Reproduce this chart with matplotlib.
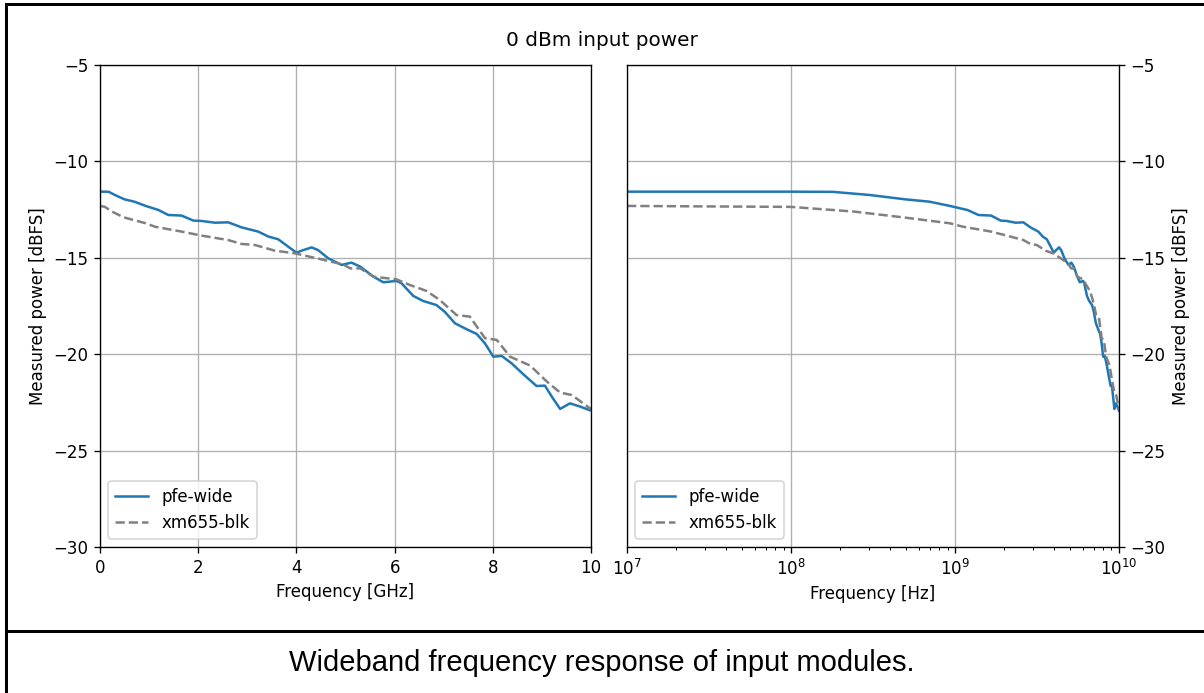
import matplotlib.pyplot as plt
from matplotlib.lines import Line2D
import numpy as np

# frequency points [GHz] and measured power [dBFS]
freq_pfe = [0.01, 0.05, 0.1, 0.18, 0.3, 0.5, 0.7, 0.93, 1.19, 1.39, 1.66, 1.90, 2.07,
            2.34, 2.61, 2.88, 3.22, 3.43, 3.63, 3.83, 4.00, 4.14, 4.31, 4.44, 4.65,
            4.92, 5.12, 5.30, 5.57, 5.77, 6.04, 6.14, 6.38, 6.58, 6.85, 7.02, 7.23,
            7.47, 7.67, 7.84, 8.01, 8.18, 8.38, 8.62, 8.89, 9.06, 9.20, 9.37, 9.57,
            9.78, 10.0]
power_pfe = [-11.57, -11.57, -11.57, -11.58, -11.74, -11.97, -12.09, -12.31, -12.52,
             -12.78, -12.81, -13.07, -13.09, -13.18, -13.16, -13.42, -13.64, -13.90,
             -14.04, -14.42, -14.73, -14.60, -14.46, -14.60, -15.03, -15.37, -15.25,
             -15.46, -15.98, -16.27, -16.20, -16.32, -16.98, -17.24, -17.45, -17.80,
             -18.40, -18.71, -18.95, -19.44, -20.13, -20.09, -20.47, -21.04, -21.65,
             -21.63, -22.20, -22.84, -22.55, -22.72, -22.93]

freq_xm = [0.01, 0.1, 0.24, 0.48, 0.93, 1.12, 1.66, 2.07, 2.61, 2.88, 3.16, 3.56, 3.97,
           4.51, 4.95, 5.10, 5.30, 5.57, 6.04, 6.31, 6.65, 6.92, 7.26, 7.53, 7.84,
           8.08, 8.35, 8.76, 9.10, 9.37, 9.61, 10.0]
power_xm = [-12.31, -12.36, -12.60, -12.90, -13.21, -13.39, -13.64, -13.85, -14.08,
            -14.28, -14.34, -14.63, -14.77, -15.08, -15.35, -15.55, -15.55, -15.98,
            -16.12, -16.41, -16.72, -17.19, -17.97, -18.05, -19.17, -19.26, -20.13,
            -20.59, -21.42, -21.99, -22.12, -22.85]

labels = ["pfe-wide", "xm655-blk"]

fig = plt.figure(figsize=(1204 / 120, 693 / 120), dpi=120)
ax1 = fig.add_axes([0.0831, 0.2107, 0.4078, 0.6955])
ax2 = fig.add_axes([0.5208, 0.2107, 0.4086, 0.6955])

# linear axis, GHz
ax1.plot(freq_pfe, power_pfe, color="tab:blue", label=labels[0])
ax1.plot(freq_xm, power_xm, color="gray", linestyle="--", label=labels[1])
ax1.set_xlim(0, 10)
ax1.set_ylim(-30, -5)
ax1.set_xlabel("Frequency [GHz]")
ax1.set_ylabel("Measured power [dBFS]")
ax1.grid(True)
ax1.legend(loc="lower left")

# log axis, Hz
ax2.semilogx(np.array(freq_pfe) * 1e9, power_pfe, color="tab:blue", label=labels[0])
ax2.semilogx(np.array(freq_xm) * 1e9, power_xm, color="gray", linestyle="--", label=labels[1])
ax2.set_xlim(1e7, 1e10)
ax2.set_ylim(-30, -5)
ax2.set_xlabel("Frequency [Hz]")
ax2.set_ylabel("Measured power [dBFS]")
ax2.yaxis.tick_right()
ax2.yaxis.set_label_position("right")
ax2.grid(True)
ax2.legend(loc="lower left")

fig.suptitle("0 dBm input power", y=0.955)

# document frame + caption cell
fig.add_artist(Line2D([6 / 1204, 6 / 1204], [0, 1 - 4 / 693], color="black", lw=1.8,
                      transform=fig.transFigure))
fig.add_artist(Line2D([6 / 1204, 1], [1 - 4 / 693, 1 - 4 / 693], color="black", lw=1.8,
                      transform=fig.transFigure))
fig.add_artist(Line2D([6 / 1204, 1], [1 - 631 / 693, 1 - 631 / 693], color="black", lw=1.8,
                      transform=fig.transFigure))
fig.text(0.5, 1 - 663 / 693, "Wideband frequency response of input modules.",
         ha="center", va="center", fontsize=17.5, family="Liberation Sans")

fig.savefig("out.png", dpi=120)
